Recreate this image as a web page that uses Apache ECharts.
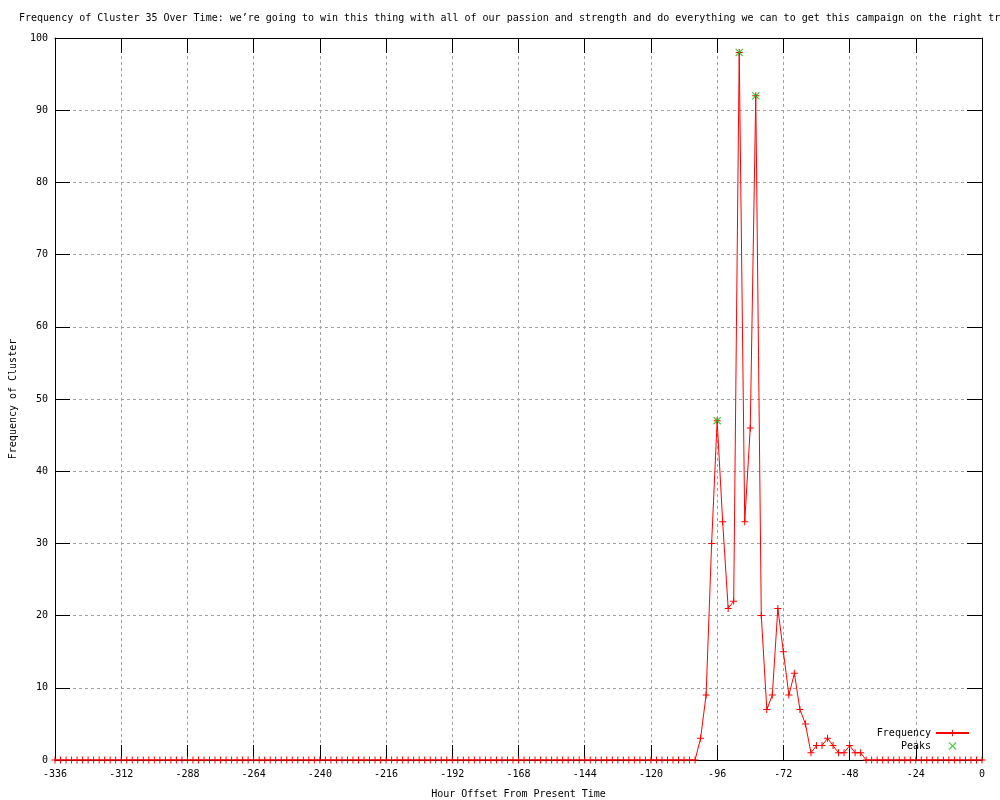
<!DOCTYPE html>
<html>
<head>
<meta charset="utf-8">
<script src="https://cdn.jsdelivr.net/npm/echarts@6/dist/echarts.min.js"></script>
<style>
html,body{margin:0;padding:0;background:#fff;}
#chart{width:1000px;height:800px;}
</style>
</head>
<body>
<div id="chart"></div>
<script>
// Hour offsets run from -336 to 0 in steps of 2 hours (169 samples)
var startHour = -336;
var stepHours = 2;
var frequency = [
  0,0,0,0,0,0,0,0,0,0,0,0,   // -336 .. -314
  0,0,0,0,0,0,0,0,0,0,0,0,   // -312 .. -290
  0,0,0,0,0,0,0,0,0,0,0,0,   // -288 .. -266
  0,0,0,0,0,0,0,0,0,0,0,0,   // -264 .. -242
  0,0,0,0,0,0,0,0,0,0,0,0,   // -240 .. -218
  0,0,0,0,0,0,0,0,0,0,0,0,   // -216 .. -194
  0,0,0,0,0,0,0,0,0,0,0,0,   // -192 .. -170
  0,0,0,0,0,0,0,0,0,0,0,0,   // -168 .. -146
  0,0,0,0,0,0,0,0,0,0,0,0,   // -144 .. -122
  0,0,0,0,0,0,0,0,0,3,9,30,  // -120 .. -98
  47,33,21,22,98,33,46,92,20,7,9,21,  // -96 .. -74
  15,9,12,7,5,1,2,2,3,2,1,1,          // -72 .. -50
  2,1,1,0,0,0,0,0,0,0,0,0,            // -48 .. -26
  0,0,0,0,0,0,0,0,0,0,0,0,            // -24 .. -2
  0                                   // 0
];
var peakHours = [-96, -88, -82];
var peakValues = [47, 98, 92];
var xTicks = [-336,-312,-288,-264,-240,-216,-192,-168,-144,-120,-96,-72,-48,-24,0];
var yTicks = [0,10,20,30,40,50,60,70,80,90,100];

var titleText = "Frequency of Cluster 35 Over Time: we\u2019re going to win this thing with all of our passion and strength and do everything we can to get this campaign on the right track";
var xName = "Hour Offset From Present Time";
var yName = "Frequency of Cluster";

var freqData = frequency.map(function(v, i){ return [startHour + i*stepHours, v]; });
var peakData = peakHours.map(function(h, i){ return [h, peakValues[i]]; });

var MONO = "DejaVu Sans Mono";
var plusPath = 'path://M3,0H4V3H7V4H4V7H3V4H0V3H3Z';
var xPath = 'path://M0,1L1,0L5,4L9,0L10,1L6,5L10,9L9,10L5,6L1,10L0,9L4,5Z';

var chart = echarts.init(document.getElementById('chart'), null, {renderer:'canvas'});
var gridLine = {show:true, lineStyle:{color:'#a0a0a0', width:1, type:[3,3]}};
var axisLine = {show:true, onZero:false, lineStyle:{color:'#000', width:1}};
var tickIn = {show:true, inside:true, length:15, lineStyle:{color:'#000', width:1}};
var lbl = {color:'#000', fontFamily:MONO, fontSize:10};

chart.setOption({
  animation:false,
  backgroundColor:'#fff',
  title:{
    text:titleText, left:14, top:8,
    textStyle:{fontFamily:MONO, fontSize:10, fontWeight:'normal', color:'#000'}
  },
  legend:{
    orient:'vertical', right:30, top:728, itemGap:3, padding:0,
    itemWidth:33, itemHeight:8, align:'right',
    textStyle:{fontFamily:MONO, fontSize:10, color:'#000'},
    data:[{name:'Frequency'}, {name:'Peaks', icon:xPath}]
  },
  grid:{left:55, right:18, top:38, bottom:40, show:false, containLabel:false, outerBoundsMode:'none'},
  xAxis:[{
    type:'value', min:xTicks[0], max:xTicks[xTicks.length-1], interval:24,
    position:'bottom',
    name:xName, nameLocation:'middle', nameGap:29,
    nameTextStyle:{fontFamily:MONO, fontSize:10, color:'#000'},
    axisLine:axisLine, axisTick:tickIn,
    axisLabel:Object.assign({margin:9}, lbl),
    splitLine:gridLine
  },{
    type:'value', min:xTicks[0], max:xTicks[xTicks.length-1], interval:24,
    position:'top',
    axisLine:axisLine, axisTick:tickIn,
    axisLabel:{show:false}, splitLine:{show:false}
  }],
  yAxis:[{
    type:'value', min:yTicks[0], max:yTicks[yTicks.length-1], interval:10,
    position:'left',
    name:yName, nameLocation:'middle', nameGap:37, nameRotate:90,
    nameTextStyle:{fontFamily:MONO, fontSize:10, color:'#000'},
    axisLine:axisLine, axisTick:tickIn,
    axisLabel:Object.assign({margin:7}, lbl),
    splitLine:gridLine
  },{
    type:'value', min:yTicks[0], max:yTicks[yTicks.length-1], interval:10,
    position:'right',
    axisLine:axisLine, axisTick:tickIn,
    axisLabel:{show:false}, splitLine:{show:false}
  }],
  series:[{
    name:'Frequency', type:'line', data:freqData,
    xAxisIndex:0, yAxisIndex:0,
    showAllSymbol:true, symbol:plusPath, symbolSize:7,
    itemStyle:{color:'#ff0000'},
    lineStyle:{color:'#ff0000', width:1},
    emphasis:{disabled:true}, z:3
  },{
    name:'Peaks', type:'scatter', data:peakData,
    xAxisIndex:0, yAxisIndex:0,
    symbol:xPath, symbolSize:8,
    itemStyle:{color:'#00c000'},
    emphasis:{disabled:true}, z:4
  }]
});
</script>
</body>
</html>
